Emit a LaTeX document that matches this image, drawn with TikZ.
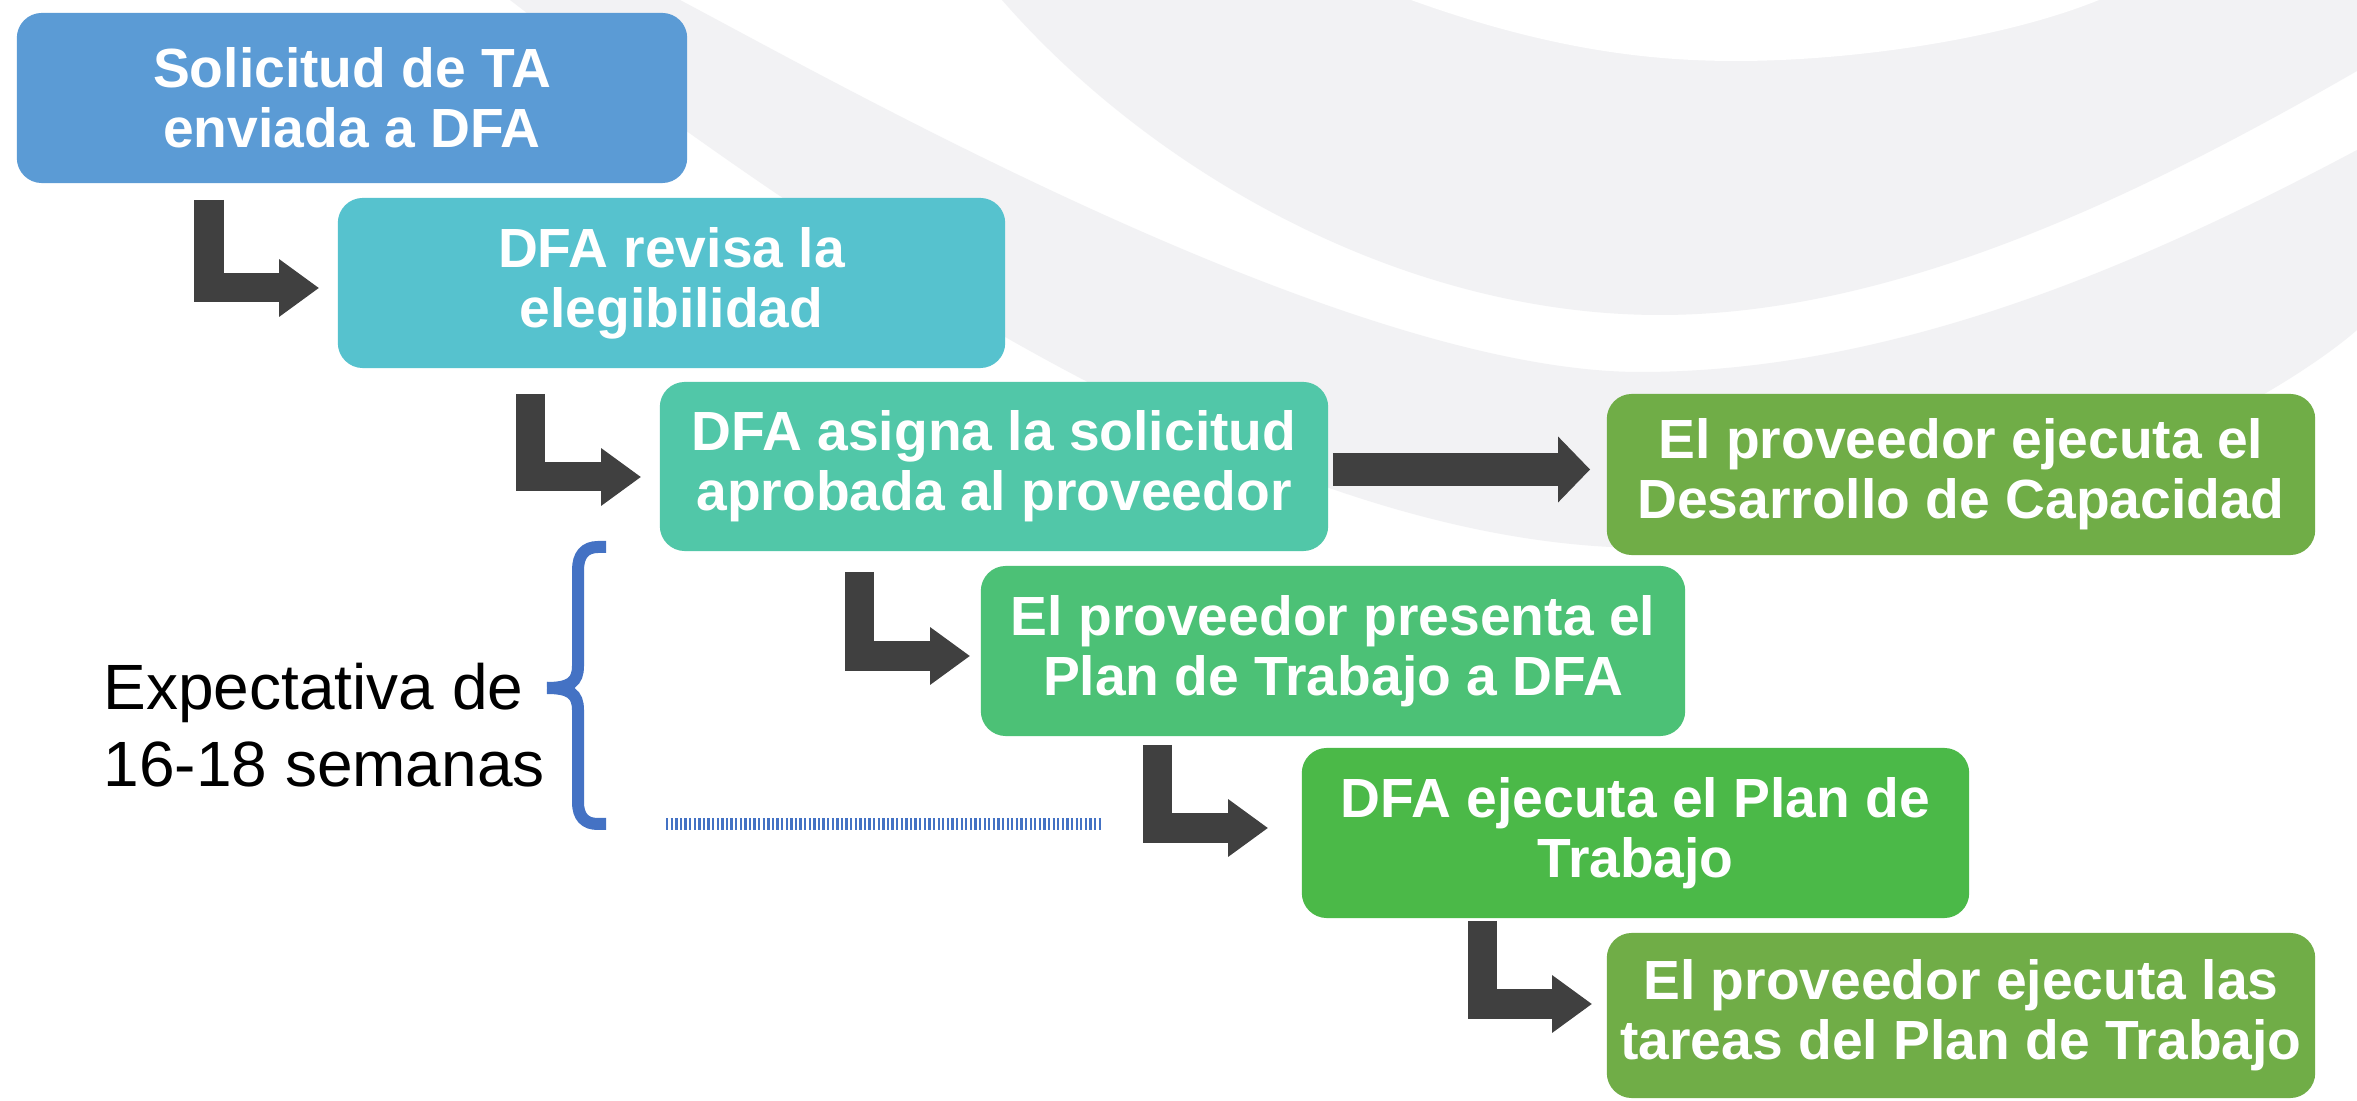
\documentclass[tikz,border=0pt]{standalone}
\usepackage{fontspec}
\setmainfont{Liberation Sans}
\usetikzlibrary{arrows.meta,calc}
\definecolor{cone}{HTML}{5B9BD5}
\definecolor{ctwo}{HTML}{56C2CE}
\definecolor{cthree}{HTML}{51C7A8}
\definecolor{cfour}{HTML}{70AD47}
\definecolor{cfive}{HTML}{4CC176}
\definecolor{csix}{HTML}{4BB948}
\definecolor{arrowgray}{HTML}{404040}
\definecolor{bracecol}{HTML}{4472C4}
\definecolor{bggray}{HTML}{F2F2F4}
\begin{document}
\begin{tikzpicture}[x=0.01cm,y=-0.01cm,
  stepbox/.style={rounded corners=0.25cm, inner sep=0pt, text=white,
    font=\bfseries\fontsize{15.7}{17}\selectfont, align=center},
  larrow/.style={draw=arrowgray, line width=0.29cm,
    -{Triangle[length=0.40cm,width=0.55cm]}},
  sarrow/.style={draw=arrowgray, line width=0.33cm,
    -{Triangle[length=0.32cm,width=0.64cm]}},
  bracestyle/.style={draw=bracecol, line width=0.12cm},
  hatchline/.style={draw=bracecol, line width=0.12cm, dash pattern=on 0.023cm off 0.023cm}
]
\useasboundingbox (0,0) rectangle (2357,1101);
\fill[white] (0,0) rectangle (2357,1101);
% background swooshes
\fill[bggray] (1002,0) -- (2357,0) -- (2357,71)
  .. controls (2150,190) and (1900,315) .. (1660,315)
  .. controls (1400,315) and (1150,170) .. (1002,0) -- cycle;
\fill[bggray] (510,0) -- (680,0)
  .. controls (850,90) and (1350,372) .. (1640,372)
  .. controls (1900,372) and (2150,260) .. (2357,150)
  -- (2357,330)
  .. controls (2300,380) and (2050,550) .. (1643,548)
  .. controls (1300,545) and (900,300) .. (510,0) -- cycle;
\fill[white] (1411,0) .. controls (1550,50) and (1650,61) .. (1736,61)
  .. controls (1850,61) and (2000,40) .. (2099,0) -- cycle;

% boxes
\node[stepbox, fill=cone, minimum width=6.70cm, minimum height=1.70cm] (b1) at (352,98)
  {Solicitud de TA\\enviada a DFA};
\node[stepbox, fill=ctwo, minimum width=6.67cm, minimum height=1.70cm] (b2) at (671.5,283)
  {DFA revisa la\\elegibilidad};
\node[stepbox, fill=cthree, minimum width=6.68cm, minimum height=1.69cm] (b3) at (994,466.5)
  {DFA asigna la solicitud\\aprobada al proveedor};
\node[stepbox, fill=cfour, minimum width=7.08cm, minimum height=1.61cm] (b4) at (1961,474.5)
  {El proveedor ejecuta el\\Desarrollo de Capacidad};
\node[stepbox, fill=cfive, minimum width=7.04cm, minimum height=1.70cm] (b5) at (1333,651)
  {El proveedor presenta el\\Plan de Trabajo a DFA};
\node[stepbox, fill=csix, minimum width=6.67cm, minimum height=1.70cm] (b6) at (1635.5,833)
  {DFA ejecuta el Plan de\\Trabajo};
\node[stepbox, fill=cfour, minimum width=7.08cm, minimum height=1.65cm] (b7) at (1961,1015.5)
  {El proveedor ejecuta las\\tareas del Plan de Trabajo};

% bent arrows
\coordinate (s1) at (209,200);
\coordinate (s2) at (530.5,394);
\coordinate (s4) at (859,572);
\coordinate (s5) at (1157.5,745);
\coordinate (s6) at (1482.5,921);
\draw[larrow] (s1) |- ($(b2.west)+(-18,5)$);
\draw[larrow] (s2) |- ($(b3.west)+(-18,10.5)$);
\draw[larrow] (s4) |- ($(b5.west)+(-10,5)$);
\draw[larrow] (s5) |- ($(b6.west)+(-33,-5)$);
\draw[larrow] (s6) |- ($(b7.west)+(-14,-11.5)$);
% straight arrow
\draw[sarrow] ($(b3.east)+(4,3)$) -- ($(b4.west)+(-16,-5)$);

% brace
\coordinate (brtop) at (606,547);
\coordinate (brtip) at (547,688);
\coordinate (brbot) at (606,824);
\draw[bracestyle] (brtop) -- (598,547) .. controls (585,547) and (578,555) .. (578,570)
  -- (578,666) .. controls (578,682) and (570,688) .. (brtip);
\draw[bracestyle] (brtip) .. controls (570,688) and (578,694) .. (578,710)
  -- (578,802) .. controls (578,817) and (585,824) .. (598,824) -- (brbot);
% hatched line
\coordinate (hl1) at (666,824);
\coordinate (hl2) at (1101,824);
\draw[hatchline] (hl1) -- (hl2);

% label
\node[anchor=west, align=left, inner sep=0pt, font=\fontsize{18.2}{22}\selectfont] (exp) at (103,725)
  {Expectativa de\\16-18 semanas};
\end{tikzpicture}
\end{document}
